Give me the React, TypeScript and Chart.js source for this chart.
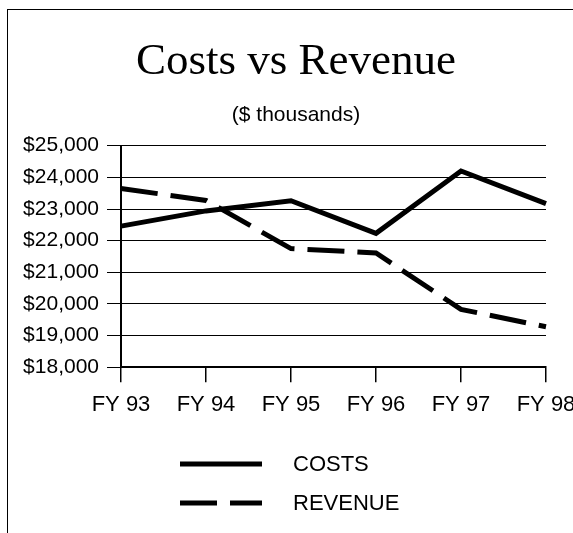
import React, { useEffect, useRef } from 'react';
import { Chart, registerables } from 'chart.js';

Chart.register(...registerables);

const categories = ['FY 93', 'FY 94', 'FY 95', 'FY 96', 'FY 97', 'FY 98'];
const costs = [22460, 22940, 23260, 22230, 24200, 23170];
const revenue = [23650, 23270, 21750, 21610, 19830, 19280];
const seriesLabels = ['COSTS', 'REVENUE'];
const yMin = 18000;
const yMax = 25000;
const yStep = 1000;

const SANS = '"Liberation Sans", Arial, sans-serif';
const SERIF = '"Liberation Serif", "Times New Roman", serif';

const stackedLegend = {
  id: 'stackedLegend',
  afterDraw(chart: any) {
    const ctx = chart.ctx;
    const x0 = 180;
    const x1 = 262;
    const tx = 293;
    const rows = [464, 503];
    chart.data.datasets.forEach((ds: any, i: number) => {
      const y = rows[i];
      ctx.save();
      ctx.strokeStyle = ds.borderColor;
      ctx.lineWidth = ds.borderWidth;
      ctx.lineCap = 'butt';
      ctx.setLineDash(ds.borderDash || []);
      ctx.beginPath();
      ctx.moveTo(x0, y);
      ctx.lineTo(x1, y);
      ctx.stroke();
      ctx.setLineDash([]);
      ctx.fillStyle = '#000';
      ctx.font = '22px ' + SANS;
      ctx.textBaseline = 'middle';
      ctx.textAlign = 'left';
      ctx.fillText(ds.label, tx, y + 1);
      ctx.restore();
    });
  },
};

export default function App() {
  const ref = useRef<HTMLCanvasElement | null>(null);

  useEffect(() => {
    if (!ref.current) return;
    const chart = new Chart(ref.current, {
      type: 'line',
      data: {
        labels: categories,
        datasets: [
          {
            label: seriesLabels[0],
            data: costs,
            borderColor: '#000',
            backgroundColor: '#000',
            borderWidth: 5,
            pointRadius: 0,
            tension: 0,
            fill: false,
          },
          {
            label: seriesLabels[1],
            data: revenue,
            borderColor: '#000',
            backgroundColor: '#000',
            borderWidth: 5,
            borderDash: [37, 13],
            pointRadius: 0,
            tension: 0,
            fill: false,
          },
        ],
      },
      options: {
        animation: false,
        responsive: false,
        maintainAspectRatio: false,
        layout: { padding: { left: 19, right: 0, top: 0, bottom: 106.3 } },
        plugins: {
          legend: { display: false },
          tooltip: { enabled: false },
          title: {
            display: true,
            text: 'Costs vs Revenue',
            color: '#000',
            font: { family: SERIF, size: 45, weight: 'normal' },
            padding: { top: 35, bottom: 0 },
          },
          subtitle: {
            display: true,
            text: '($ thousands)',
            color: '#000',
            font: { family: SANS, size: 21, weight: 'normal' },
            padding: { top: 13.4, bottom: 18.1 },
          },
        },
        scales: {
          x: {
            type: 'category',
            offset: false,
            grid: {
              drawOnChartArea: false,
              drawTicks: true,
              tickLength: 15,
              color: '#000',
              lineWidth: 1.5,
            },
            border: { display: true, color: '#000', width: 2 },
            ticks: {
              color: '#000',
              font: { family: SANS, size: 22 },
              padding: 9,
              maxRotation: 0,
              autoSkip: false,
            },
            afterFit: (s: any) => {
              s.paddingLeft = 0;
              s.paddingRight = 27;
            },
          },
          y: {
            min: yMin,
            max: yMax,
            grid: { color: '#000', lineWidth: 1, tickLength: 14, drawTicks: true },
            border: { display: true, color: '#000', width: 2 },
            ticks: {
              stepSize: yStep,
              color: '#000',
              font: { family: SANS, size: 21 },
              padding: 8,
              callback: (v: any) => '$' + Number(v).toLocaleString('en-US'),
            },
            afterFit: (s: any) => {
              s.width = 121 - 19;
            },
          },
        },
      },
      plugins: [stackedLegend],
    });
    return () => chart.destroy();
  }, []);

  return (
    <div
      style={{
        position: 'fixed',
        left: 0,
        top: 0,
        width: 573,
        height: 533,
        overflow: 'hidden',
        background: '#fff',
      }}
    >
      <div
        style={{
          position: 'absolute',
          left: 7,
          top: 9,
          right: 0,
          bottom: 0,
          borderLeft: '1px solid #000',
          borderTop: '1px solid #000',
        }}
      />
      <canvas
        ref={ref}
        width={573}
        height={533}
        style={{ position: 'absolute', left: 0, top: 0, display: 'block' }}
      />
    </div>
  );
}
